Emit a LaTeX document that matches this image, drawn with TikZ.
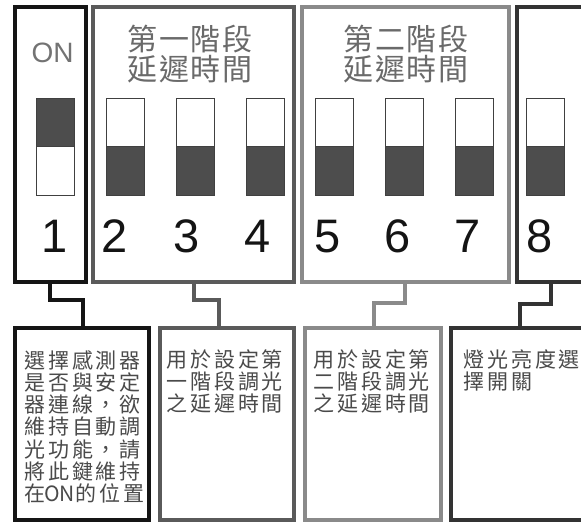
\documentclass[tikz,border=0pt]{standalone}
\usepackage{fontspec}
\setmainfont{Liberation Sans}
\newfontfamily\cjkbox{Noto Sans CJK TC}[LetterSpace=14]
\newfontfamily\cjkplain{Noto Sans CJK TC}
\newfontfamily\cjktitle{Noto Sans CJK TC}[LetterSpace=5]
\definecolor{kA}{HTML}{151515}
\definecolor{kB}{HTML}{5A5A5A}
\definecolor{kC}{HTML}{8A8A8A}
\definecolor{kD}{HTML}{333333}
\definecolor{swdark}{HTML}{4D4D4D}
\definecolor{titlegray}{HTML}{6A6A6A}
\definecolor{textgray}{HTML}{4A4A4A}
\tikzset{
  panel/.style={draw=#1, line width=4pt, inner sep=0pt, rectangle},
  link/.style={draw=#1, line width=4.5pt},
  swtop/.style={draw=black!75, line width=1pt, inner sep=0pt, minimum width=38pt, minimum height=48pt},
  digit/.style={anchor=base, inner sep=0pt, font=\fontsize{47}{47}\selectfont, text=black!92},
  ttl/.style={anchor=base, inner sep=0pt, font=\cjktitle\fontsize{30}{31}\selectfont, text=titlegray},
  desc/.style={anchor=base west, inner sep=0pt, font=\cjkbox\fontsize{21}{22}\selectfont, text=textgray},
}
\begin{document}
\begin{tikzpicture}[x=1pt,y=-1pt]
\useasboundingbox (0,0) rectangle (581,524);
\clip (0,0) rectangle (581,524);
\fill[white] (0,0) rectangle (581,524);
% top panels
\node[panel=kA, minimum width=71pt, minimum height=275pt] (t1) at (50.5,144.5) {};
\node[panel=kB, minimum width=201pt, minimum height=275pt] (t2) at (193.5,144.5) {};
\node[panel=kC, minimum width=207pt, minimum height=275pt] (t3) at (405.5,144.5) {};
\node[panel=kD, minimum width=150pt, minimum height=275pt] (t4) at (592,144.5) {};
% bottom panels
\node[panel=kA, minimum width=134pt, minimum height=192pt] (b1) at (82,424) {};
\node[panel=kB, minimum width=134pt, minimum height=192pt] (b2) at (227,424) {};
\node[panel=kC, minimum width=136pt, minimum height=192pt] (b3) at (373,424) {};
\node[panel=kD, minimum width=160pt, minimum height=192pt] (b4) at (531,424) {};
% connector bend points
\coordinate (c1a) at (50,300);  \coordinate (c1b) at (83,300);
\coordinate (c2a) at (194,300); \coordinate (c2b) at (219,300);
\coordinate (c3a) at (405,303); \coordinate (c3b) at (374,303);
\coordinate (c4a) at (551,304); \coordinate (c4b) at (520,304);
\draw[link=kA] (t1.south -| c1a) -- (c1a) -- (c1b) -- (b1.north -| c1b);
\draw[link=kB] (t2.south -| c2a) -- (c2a) -- (c2b) -- (b2.north -| c2b);
\draw[link=kC] (t3.south -| c3a) -- (c3a) -- (c3b) -- (b3.north -| c3b);
\draw[link=kD] (t4.south -| c4a) -- (c4a) -- (c4b) -- (b4.north -| c4b);
% switches
\node[swtop, fill=swdark] (s1u) at (55,123) {};
\node[swtop, fill=white] (s1d) at (55,171) {};
\foreach \x [count=\i from 2] in {125,195,265,334,404,474.5,545}{
  \node[swtop, fill=white] (s\i u) at (\x,123) {};
  \node[swtop, fill=swdark] (s\i d) at (\x,171) {};
}
% labels
\node[anchor=base, inner sep=0pt, font=\fontsize{28}{28}\selectfont, text=black!55] (on) at (52.5,63) {ON};
\foreach \x [count=\i] in {55,115,187,258,328,398,468,540}{
  \node[digit] (n\i) at (\x,252) {\i};
}
\node[ttl] (h1a) at (190,51) {第一階段};
\node[ttl] (h1b) at (190,81) {延遲時間};
\node[ttl] (h2a) at (406,51) {第二階段};
\node[ttl] (h2b) at (406,81) {延遲時間};
% descriptions
\foreach \t [count=\i] in {選擇感測器,是否與安定,器連線，欲,維持自動調,光功能，請,將此鍵維持}{
  \node[desc] (da\i) at (24,{368+22.3*(\i-1)}) {\t};
}
\node[desc] (da7) at (24,{368+22.3*6}) {在\hspace{-1pt}{\cjkplain ON}\hspace{1pt}的位置};
\foreach \t [count=\i] in {用於設定第,一階段調光,之延遲時間}{
  \node[desc] (db\i) at (166,{367+22.3*(\i-1)}) {\t};
}
\foreach \t [count=\i] in {用於設定第,二階段調光,之延遲時間}{
  \node[desc] (dc\i) at (313,{367+22.3*(\i-1)}) {\t};
}
\foreach \t [count=\i] in {燈光亮度選,擇開關}{
  \node[desc] (dd\i) at (463,{367+22.3*(\i-1)}) {\t};
}
\end{tikzpicture}
\end{document}
